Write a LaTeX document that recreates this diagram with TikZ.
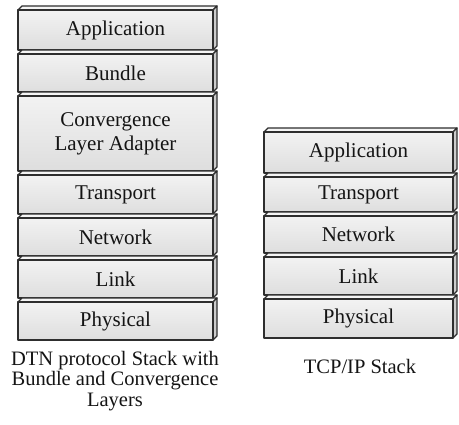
\documentclass[tikz,border=0pt]{standalone}
\usepackage{fontspec}
\setmainfont{Liberation Serif}
\tikzset{
  slabedge/.style={draw=black!82, line width=1.3pt, line join=round},
  frontface/.style={slabedge, top color=gray!10, bottom color=gray!26},
  topface/.style={slabedge, fill=gray!8},
  sideface/.style={slabedge, fill=gray!40},
  layertext/.style={font=\fontsize{21}{24}\selectfont, align=center, text=black!92, inner sep=0pt},
  captiontext/.style={font=\fontsize{20.5}{20.5}\selectfont, align=center, text=black!92, inner sep=0pt},
}
% one protocol layer drawn as a thin 3-D slab:
% #1 left x, #2 right x, #3 top y, #4 bottom y, #5 node name, #6 label
\newcommand\layerslab[6]{%
  \path[topface] (#1,#3+4) -- (#1+4,#3) -- (#2+4,#3) -- (#2,#3+4) -- cycle;
  \path[sideface] (#2,#3+4) -- (#2+4,#3) -- (#2+4,#4-4) -- (#2,#4) -- cycle;
  \path[frontface] (#1,#3+4) rectangle (#2,#4);
  \node[layertext] (#5) at ({(#1+#2)/2},{(#3+4+#4)/2}) {#6};
}
\begin{document}
\begin{tikzpicture}[x=1pt, y=-1pt]
  \useasboundingbox (0,0) rectangle (459,425);

  % DTN stack
  \layerslab{18}{213}{6}{50}{dtnapp}{Application}
  \layerslab{18}{213}{50}{92}{dtnbundle}{Bundle}
  \layerslab{18}{213}{92}{171}{dtncla}{Convergence\\Layer Adapter}
  \layerslab{18}{213}{171}{214}{dtntrans}{Transport}
  \layerslab{18}{213}{214}{256}{dtnnet}{Network}
  \layerslab{18}{213}{256}{298}{dtnlink}{Link}
  \layerslab{18}{213}{298}{340}{dtnphy}{Physical}

  % TCP/IP stack
  \layerslab{264}{453}{128}{173}{ipapp}{Application}
  \layerslab{264}{453}{173}{212}{iptrans}{Transport}
  \layerslab{264}{453}{212}{253}{ipnet}{Network}
  \layerslab{264}{453}{253}{295}{iplink}{Link}
  \layerslab{264}{453}{295}{338}{ipphy}{Physical}

  % captions
  \node[captiontext, anchor=north] (dtncap) at (115,351) {DTN protocol Stack with\\Bundle and Convergence\\Layers};
  \node[captiontext] (ipcap) at (360,366) {TCP/IP Stack};
\end{tikzpicture}
\end{document}
